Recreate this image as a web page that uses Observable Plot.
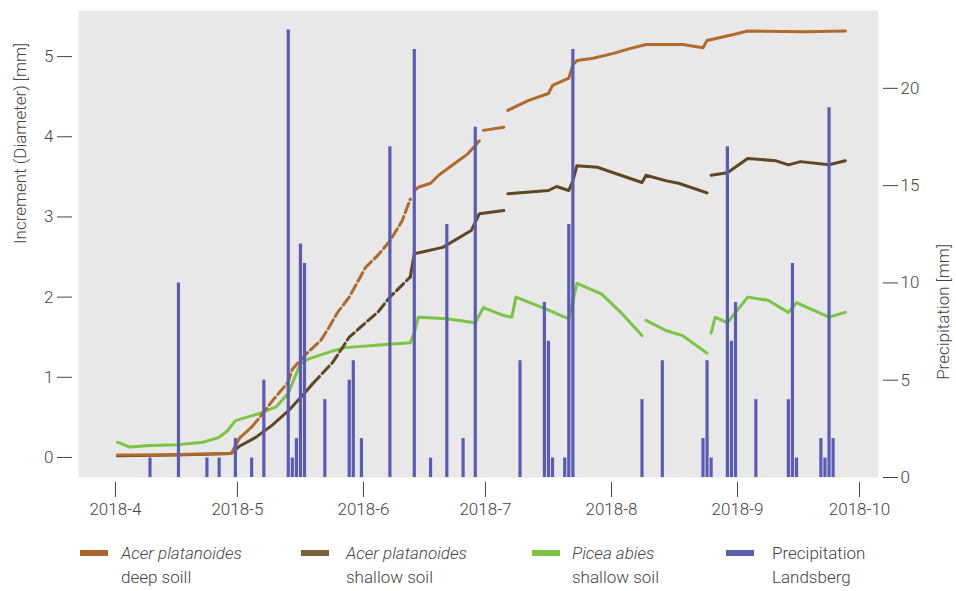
<!DOCTYPE html>
<html><head><meta charset="utf-8">
<script src="https://cdn.jsdelivr.net/npm/d3@7"></script>
<script src="https://cdn.jsdelivr.net/npm/@observablehq/plot@0.6"></script>
<style>
body{margin:0;background:#fff;font-family:Roboto,sans-serif;font-weight:300;color:#444;}
#wrap{position:relative;width:956px;height:591px;overflow:hidden;}
.legend{position:absolute;top:541px;left:0;width:956px;height:50px;}
.sw{position:absolute;top:9px;width:28px;height:6px;}
.lt{position:absolute;top:0;font-size:17px;line-height:24px;color:#444;white-space:nowrap;}
.lt i{font-style:italic;}
</style></head><body><div id="wrap"></div>
<script>
// Acer platanoides, deep soil — increment [mm] (null = gap in record)
const deepSoil = [
["2018-04-01",0.03],["2018-04-09",0.03],["2018-04-19",0.04],["2018-04-29",0.05],["2018-05-01",0.24],
["2018-05-04",0.38],["2018-05-06",0.50],["2018-05-09",0.70],["2018-05-13",0.94],["2018-05-14",1.10],
["2018-05-17",1.27],["2018-05-21",1.46],["2018-05-23",1.62],["2018-05-25",1.80],["2018-05-28",2.00],
["2018-06-01",2.37],["2018-06-04",2.52],["2018-06-07",2.70],["2018-06-10",2.95],["2018-06-12",3.22],
["2018-06-12",null],["2018-06-13",3.33],["2018-06-14",3.37],["2018-06-17",3.42],["2018-06-19",3.52],
["2018-06-23",3.67],["2018-06-26",3.78],["2018-06-28",3.89],["2018-06-29",3.95],["2018-06-29",null],
["2018-06-30",4.08],["2018-07-05",4.12],["2018-07-05",null],["2018-07-06",4.33],["2018-07-11",4.45],
["2018-07-16",4.54],["2018-07-17",4.64],["2018-07-21",4.73],["2018-07-22",4.90],["2018-07-23",4.95],
["2018-07-27",4.98],["2018-08-01",5.04],["2018-08-05",5.10],["2018-08-09",5.15],["2018-08-18",5.15],
["2018-08-23",5.11],["2018-08-24",5.20],["2018-08-30",5.27],["2018-09-03",5.32],["2018-09-17",5.31],
["2018-09-27",5.32]
];
// Acer platanoides, shallow soil
const shallowSoil = [
["2018-04-01",0.02],["2018-04-15",0.03],["2018-04-29",0.05],["2018-05-01",0.14],["2018-05-05",0.25],
["2018-05-09",0.40],["2018-05-13",0.58],["2018-05-17",0.80],["2018-05-19",0.92],["2018-05-24",1.19],
["2018-05-28",1.50],["2018-06-01",1.68],["2018-06-04",1.81],["2018-06-07",2.00],["2018-06-12",2.25],
["2018-06-13",2.54],["2018-06-20",2.62],["2018-06-27",2.83],["2018-06-29",3.04],["2018-07-05",3.08],
["2018-07-05",null],["2018-07-06",3.29],["2018-07-16",3.33],["2018-07-18",3.38],["2018-07-21",3.33],
["2018-07-22",3.45],["2018-07-23",3.64],["2018-07-28",3.62],["2018-08-08",3.43],["2018-08-09",3.52],
["2018-08-14",3.45],["2018-08-17",3.42],["2018-08-24",3.30],["2018-08-24",null],["2018-08-25",3.52],
["2018-08-29",3.55],["2018-09-03",3.73],["2018-09-10",3.70],["2018-09-13",3.65],["2018-09-16",3.69],
["2018-09-23",3.65],["2018-09-27",3.70]
];
// Picea abies, shallow soil
const piceaAbies = [
["2018-04-01",0.19],["2018-04-04",0.13],["2018-04-09",0.15],["2018-04-16",0.16],["2018-04-22",0.19],
["2018-04-26",0.25],["2018-04-28",0.33],["2018-04-30",0.46],["2018-05-06",0.55],["2018-05-10",0.63],
["2018-05-13",0.80],["2018-05-16",1.17],["2018-05-18",1.23],["2018-05-24",1.33],["2018-05-27",1.37],
["2018-06-06",1.41],["2018-06-12",1.43],["2018-06-13",1.55],["2018-06-14",1.75],["2018-06-21",1.73],
["2018-06-28",1.68],["2018-06-30",1.87],["2018-07-05",1.77],["2018-07-07",1.75],["2018-07-08",2.00],
["2018-07-15",1.86],["2018-07-21",1.73],["2018-07-23",2.17],["2018-07-29",2.04],["2018-08-03",1.80],
["2018-08-08",1.52],["2018-08-08",null],["2018-08-09",1.71],["2018-08-14",1.58],["2018-08-18",1.52],
["2018-08-24",1.30],["2018-08-24",null],["2018-08-25",1.55],["2018-08-26",1.75],["2018-08-29",1.68],
["2018-09-03",2.00],["2018-09-08",1.96],["2018-09-13",1.81],["2018-09-15",1.93],["2018-09-23",1.75],
["2018-09-27",1.81]
];
// Precipitation Landsberg [mm/day]
const precipitation = [
["2018-04-09",1],["2018-04-16",10],["2018-04-23",1],["2018-04-26",1],["2018-04-30",2],["2018-05-04",1],
["2018-05-07",5],["2018-05-13",23],["2018-05-14",1],["2018-05-15",2],["2018-05-16",12],["2018-05-17",11],
["2018-05-22",4],["2018-05-28",5],["2018-05-29",6],["2018-05-31",2],["2018-06-07",17],["2018-06-13",22],
["2018-06-17",1],["2018-06-21",13],["2018-06-25",2],["2018-06-28",18],["2018-07-09",6],["2018-07-15",9],
["2018-07-16",7],["2018-07-17",1],["2018-07-20",1],["2018-07-21",13],["2018-07-22",22],["2018-08-08",4],
["2018-08-13",6],["2018-08-23",2],["2018-08-24",6],["2018-08-25",1],["2018-08-29",17],["2018-08-30",7],
["2018-08-31",9],["2018-09-05",4],["2018-09-13",4],["2018-09-14",11],["2018-09-15",1],["2018-09-21",2],
["2018-09-22",1],["2018-09-23",19],["2018-09-24",2]
];
// periods where the dendrometer record is broken into short pieces
const deepBroken = ["2018-05-04","2018-06-12"];
const shallowBroken = ["2018-05-19","2018-06-12"];

const monthTicks = ["2018-04-01","2018-05-01","2018-06-01","2018-07-01","2018-08-01","2018-09-01","2018-10-01"];
const incrementTicks = [0,1,2,3,4,5];
const precipTicks = [0,5,10,15,20];

const colors = {deep:"#b06a2c", shallow:"#5e4722", picea:"#7cc444", precip:"#5b5bb6"};

// dual axis: left domain (mm increment) and right domain (mm precipitation)
const yDomain = [-0.25, 5.575];
const pDomain = [0, 24];
const toLeft = p => yDomain[0] + (p - pDomain[0]) * (yDomain[1]-yDomain[0])/(pDomain[1]-pDomain[0]);
const fromLeft = v => pDomain[0] + (v - yDomain[0]) * (pDomain[1]-pDomain[0])/(yDomain[1]-yDomain[0]);

const day = s => new Date(s + "T12:00:00Z");
const font = {fontSize: 17};

function brokenLine(data, period, color) {
  const inside = d => d[0] > period[0] && d[0] < period[1];
  const within = d => d[0] >= period[0] && d[0] <= period[1];
  return [
    Plot.line(data, {x: d => day(d[0]), y: d => inside(d) ? null : d[1], stroke: color, strokeWidth: 3}),
    Plot.line(data, {x: d => day(d[0]), y: d => within(d) ? d[1] : null, stroke: color, strokeWidth: 3, strokeDasharray: "10,4"})
  ];
}

const chart = Plot.plot({
  width: 956, height: 525,
  marginLeft: 78, marginRight: 78, marginTop: 10, marginBottom: 48,
  style: {fontFamily: "Roboto, sans-serif", fontWeight: 300, color: "#444", background: "transparent"},
  x: {type: "utc", domain: [new Date("2018-03-22T22:00:00Z"), new Date("2018-10-05T16:00:00Z")], label: null},
  y: {domain: yDomain, label: null},
  marks: [
    Plot.frame({fill: "#e8e8e8", stroke: null}),
    Plot.line(piceaAbies, {x: d => day(d[0]), y: d => d[1], stroke: colors.picea, strokeWidth: 3}),
    ...brokenLine(shallowSoil, shallowBroken, colors.shallow),
    ...brokenLine(deepSoil, deepBroken, colors.deep),
    Plot.ruleX(precipitation, {x: d => day(d[0]), y1: () => toLeft(0), y2: d => toLeft(d[1]), stroke: colors.precip, strokeWidth: 3.2}),
    Plot.axisX(monthTicks.map(s => new Date(s + "T00:00:00Z")), {
      tickSize: 15, tickPadding: 5, dy: 5, ...font, label: null,
      tickFormat: d => `2018-${d.getUTCMonth() + 1}`
    }),
    Plot.axisY(incrementTicks, {anchor: "left", tickSize: 15, tickPadding: 4, dx: -6, ...font, label: null,
      tickFormat: d => String(d)}),
    Plot.axisY(precipTicks.map(toLeft), {anchor: "right", tickSize: 15, tickPadding: 3, dx: 4, ...font, label: null,
      tickFormat: v => String(Math.round(fromLeft(v)))}),
    Plot.text(["Increment (Diameter) [mm]"], {text: d => d, frameAnchor: "left", dx: -58, rotate: -90, ...font, fill: "#444"}),
    Plot.text(["Precipitation [mm]"], {text: d => d, frameAnchor: "right", dx: 65, rotate: -90, ...font, fill: "#444"})
  ]
});

const wrap = document.getElementById("wrap");
wrap.appendChild(chart);

const legendItems = [
  {color: "#a8642a", l1: "<i>Acer platanoides</i>", l2: "deep soill", sx: 80, tx: 121},
  {color: "#7a6238", l1: "<i>Acer platanoides</i>", l2: "shallow soil", sx: 301, tx: 346},
  {color: "#7dc242", l1: "<i>Picea abies</i>", l2: "shallow soil", sx: 532, tx: 572},
  {color: "#5a5fb0", l1: "Precipitation", l2: "Landsberg", sx: 726, tx: 772}
];
const legend = document.createElement("div");
legend.className = "legend";
for (const it of legendItems) {
  const sw = document.createElement("div");
  sw.className = "sw"; sw.style.left = it.sx + "px"; sw.style.background = it.color;
  const t = document.createElement("div");
  t.className = "lt"; t.style.left = it.tx + "px"; t.innerHTML = it.l1 + "<br>" + it.l2;
  legend.appendChild(sw); legend.appendChild(t);
}
wrap.appendChild(legend);
</script>
</body></html>
